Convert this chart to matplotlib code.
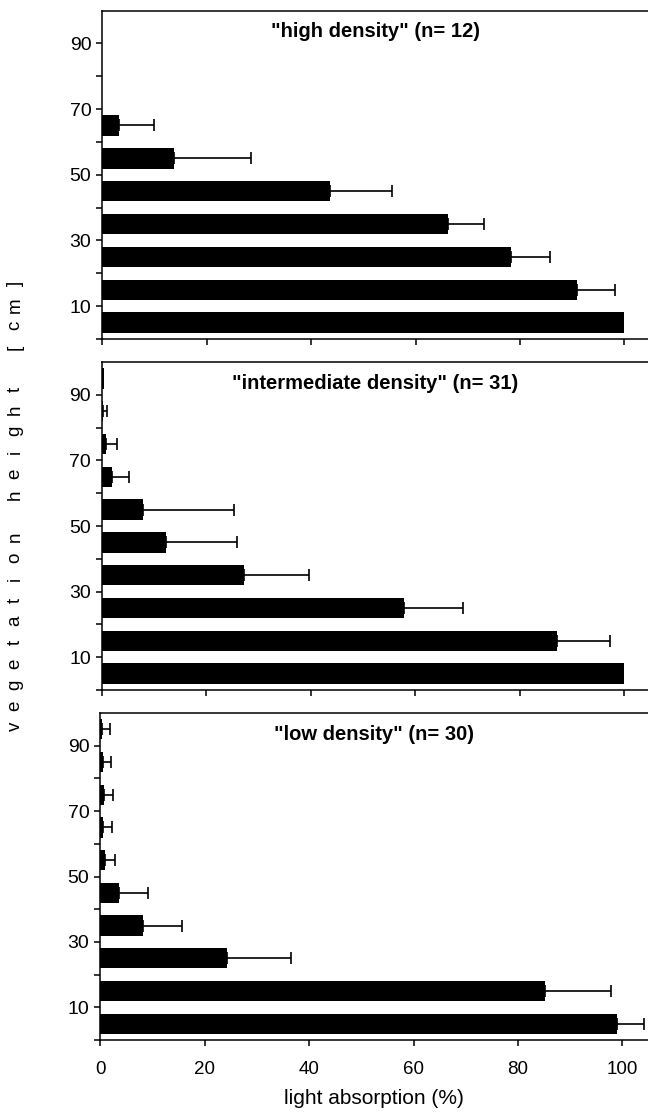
import numpy as np
import matplotlib
matplotlib.use("Agg")
import matplotlib.pyplot as plt

plt.rcParams['font.family'] = ['Liberation Sans', 'DejaVu Sans']

# vegetation height classes (centre of each 10 cm layer)
heights = [5, 15, 25, 35, 45, 55, 65, 75, 85, 95]

# light absorption (%) per layer, mean and upper error
high_mean = [100.0, 91.0, 78.2, 66.2, 43.6, 13.7, 3.2, 0.0, 0.0, 0.0]
high_err = [0.0, 7.2, 7.5, 6.9, 11.9, 14.8, 6.7, 0.0, 0.0, 0.0]

mid_mean = [100.0, 87.1, 57.8, 27.2, 12.2, 7.8, 1.9, 0.7, 0.1, 0.3]
mid_err = [0.0, 10.3, 11.3, 12.4, 13.7, 17.4, 3.3, 2.1, 0.8, 0.0]

low_mean = [99.0, 85.2, 24.3, 8.1, 3.5, 0.9, 0.45, 0.6, 0.45, 0.3]
low_err = [5.2, 12.7, 12.2, 7.6, 5.6, 1.95, 1.85, 1.75, 1.65, 1.5]

titles = ['"high density" (n= 12)', '"intermediate density" (n= 31)', '"low density" (n= 30)']
panels = [(high_mean, high_err), (mid_mean, mid_err), (low_mean, low_err)]

W, H = 648, 1113
fig = plt.figure(figsize=(W / 100, H / 100), dpi=100)

# pixel boxes: left, top, bottom
boxes = [(102.4, 10.5, 339.0), (102.0, 362.0, 690.0), (100.4, 713.0, 1040.0)]
px_per_unit = 5.22

for i, ((mean, err), title, (x0, top, bot)) in enumerate(zip(panels, titles, boxes)):
    ax = fig.add_axes([x0 / W, 1 - bot / H, (W - x0) / W, (bot - top) / H])
    ax.barh(heights, mean, height=6.2, color='black', zorder=2)
    mean = np.array(mean)
    err = np.array(err)
    m = err > 0
    ax.errorbar(mean[m], np.array(heights)[m], xerr=[np.zeros(m.sum()), err[m]],
                fmt='none', ecolor='black', elinewidth=1.2, capsize=4.5,
                capthick=1.2, zorder=3)
    ax.set_xlim(0, (W - x0) / px_per_unit)
    ax.set_ylim(0, 100)
    ax.set_xticks(range(0, 101, 20))
    ax.set_yticks([10, 30, 50, 70, 90])
    ax.set_yticks([0, 20, 40, 60, 80], minor=True)
    ax.tick_params(axis='both', which='both', direction='out', length=4,
                   width=1.1, labelsize=14, pad=4)
    ax.tick_params(axis='x', labelsize=13.5, pad=11)
    ax.spines['right'].set_visible(False)
    for s in ['left', 'bottom', 'top']:
        ax.spines[s].set_linewidth(1.1)
    if i < 2:
        ax.set_xticklabels([])
    ax.text(0.5, 1 - 21 / (bot - top), title, transform=ax.transAxes,
            ha='center', va='center', fontsize=14.5, fontweight='bold')

fig.text(374 / W, 1 - 1099 / H, 'light absorption (%)', ha='center',
         va='center', fontsize=15)

# letter-spaced y label
label = 'vegetation height [cm]'
step = 21.1
y_start = 726.7
for k, ch in enumerate(label):
    if ch == ' ':
        continue
    fig.text(15 / W, 1 - (y_start - k * step) / H, ch, rotation=90,
             ha='center', va='center', fontsize=13.5)

fig.savefig('out.png', dpi=100)
